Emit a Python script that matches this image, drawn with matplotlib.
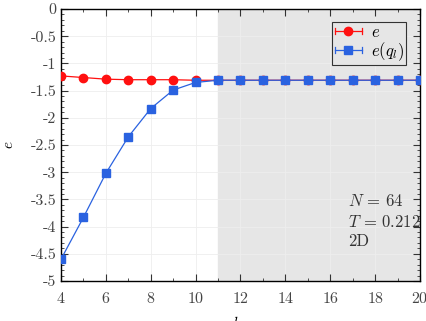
import matplotlib
matplotlib.use("Agg")
import matplotlib.pyplot as plt
from matplotlib.ticker import MultipleLocator
from matplotlib.legend_handler import HandlerBase
from matplotlib.lines import Line2D

plt.rcParams['font.family'] = 'serif'
plt.rcParams['font.serif'] = ['cmr10', 'DejaVu Serif']
plt.rcParams['mathtext.fontset'] = 'cm'
plt.rcParams['axes.unicode_minus'] = False
plt.rcParams['axes.formatter.use_mathtext'] = True

k = [4, 5, 6, 7, 8, 9, 10, 11, 12, 13, 14, 15, 16, 17, 18, 19, 20]
e = [-1.23, -1.26, -1.29, -1.30, -1.30, -1.30, -1.31, -1.31, -1.31, -1.31,
     -1.31, -1.31, -1.31, -1.31, -1.31, -1.31, -1.31]
e_ql = [-4.60, -3.83, -3.02, -2.35, -1.83, -1.49, -1.35, -1.31, -1.31, -1.31,
        -1.31, -1.31, -1.31, -1.31, -1.31, -1.31, -1.31]
err_e = [0.01] * len(k)
err_ql = [0.02] * len(k)
xticks = [4, 6, 8, 10, 12, 14, 16, 18, 20]
yticks = [0, -0.5, -1, -1.5, -2, -2.5, -3, -3.5, -4, -4.5, -5]
ytick_labels = ['0', '-0.5', '-1', '-1.5', '-2', '-2.5', '-3', '-3.5', '-4', '-4.5', '-5']
info_lines = ['$N\\,=\\,64$', '$T\\,=\\,0.212$', '2D']

RED = '#ff1010'
BLUE = '#2a62e0'


class CapHandler(HandlerBase):
    def __init__(self, color, marker, ms):
        super().__init__()
        self.color = color
        self.marker = marker
        self.ms = ms

    def create_artists(self, legend, orig_handle, xdescent, ydescent,
                       width, height, fontsize, trans):
        yc = height / 2 - ydescent
        x0, x1 = -xdescent, width - xdescent
        h = height * 0.28
        arts = [
            Line2D([x0, x1], [yc, yc], color=self.color, lw=0.9),
            Line2D([x0, x0], [yc - h, yc + h], color=self.color, lw=0.9),
            Line2D([x1, x1], [yc - h, yc + h], color=self.color, lw=0.9),
            Line2D([(x0 + x1) / 2], [yc], color=self.color, marker=self.marker,
                   ms=self.ms, lw=0),
        ]
        for a in arts:
            a.set_transform(trans)
        return arts


fig = plt.figure(figsize=(4.26, 3.21), dpi=100)
ax = fig.add_axes([0.1432, 0.1246, 0.8427, 0.8474])

ax.axvspan(11, 20, color='#e6e6e6', zorder=0)
ax.grid(True, color='#eeeeee', lw=0.6, zorder=0.5)

h1 = ax.errorbar(k, e, yerr=err_e, color=RED, marker='o', ms=6, lw=0.9,
                 capsize=3, elinewidth=0.8, label='$e$', zorder=3)
h2 = ax.errorbar(k, e_ql, yerr=err_ql, color=BLUE, marker='s', ms=5.5, lw=0.9,
                 capsize=3, elinewidth=0.8, label='$e(q_l)$', zorder=4)

ax.set_xlim(4, 20)
ax.set_ylim(-5, 0)
ax.set_xticks(xticks)
ax.set_yticks(yticks)
ax.set_yticklabels(ytick_labels)
ax.xaxis.set_minor_locator(MultipleLocator(1))
ax.yaxis.set_minor_locator(MultipleLocator(0.1))
ax.tick_params(which='both', direction='in', top=True, right=True, labelsize=11.5,
               colors='#333333', labelcolor='#444444')
ax.tick_params(which='major', length=5, width=0.8)
ax.tick_params(which='minor', length=2.5, width=0.6)
ax.tick_params(axis='x', pad=7)
for s in ax.spines.values():
    s.set_linewidth(1.0)

ax.set_ylabel('$e$', fontsize=11, va='center')
ax.yaxis.set_label_coords(-0.145, 0.5)
ax.set_xlabel('$k$', fontsize=11)
ax.xaxis.set_label_coords(0.49, -0.125)
ax.xaxis.label.set_va('top')

leg = ax.legend([h1, h2], ['$e$', '$e(q_l)$'], loc='upper right',
                bbox_to_anchor=(0.962, 0.952), fontsize=12,
                frameon=True, fancybox=False, edgecolor='#333333',
                framealpha=1, facecolor='#e6e6e6', handlelength=1.6,
                borderpad=0.15, labelspacing=0.0, handletextpad=0.55,
                borderaxespad=0,
                handler_map={h1: CapHandler(RED, 'o', 6),
                             h2: CapHandler(BLUE, 's', 5.5)})
leg.get_frame().set_linewidth(0.8)

for txt, yb in zip(info_lines, [0.276, 0.199, 0.129]):
    ax.text(0.80, yb, txt, transform=ax.transAxes, fontsize=12,
            color='#333333', va='baseline')

fig.savefig('out.png', dpi=100)
